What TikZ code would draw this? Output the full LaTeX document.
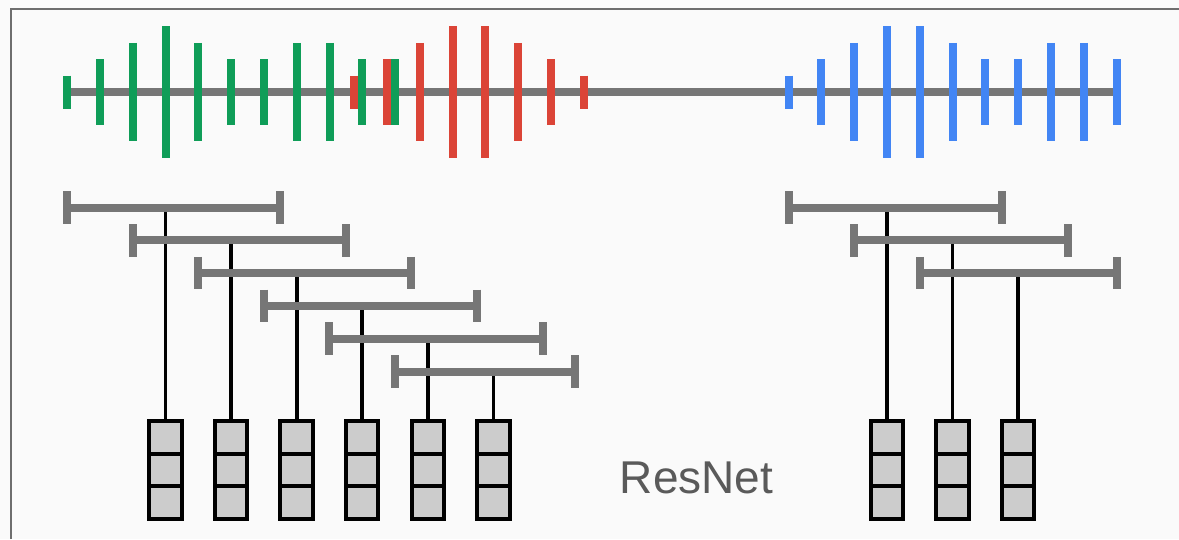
\documentclass[tikz,border=0pt]{standalone}
\usepackage{fontspec}
\setmainfont{Liberation Sans}
\usetikzlibrary{calc}
\definecolor{bgc}{HTML}{FAFAFA}
\definecolor{framec}{HTML}{6E6E6E}
\definecolor{axisc}{HTML}{767676}
\definecolor{gbar}{HTML}{0F9D58}
\definecolor{rbar}{HTML}{DB4437}
\definecolor{bbar}{HTML}{4285F4}
\definecolor{cellc}{HTML}{CCCCCC}
\definecolor{txtc}{HTML}{5A5A5A}
\tikzset{
  spike/.style={line width=8pt, line cap=butt},
  axisline/.style={line width=8pt, axisc, line cap=butt},
  bracketline/.style={line width=8pt, axisc, line cap=butt},
  wire/.style={line width=3.8pt, black, line cap=butt},
  cellbox/.style={draw=black, line width=4pt, fill=cellc, minimum width=32.5pt, minimum height=97.4pt, inner sep=0pt, outer sep=0pt},
}
\begin{document}
\begin{tikzpicture}[x=1pt,y=-1pt]
\useasboundingbox (0,0) rectangle (1179,539);
\fill[bgc] (0,0) rectangle (1179,539);
\draw[framec, line width=2pt] (11,539) -- (11,9.2) -- (1179,9.2);

% waveform axis
\coordinate (ax0) at (67.2,92);
\coordinate (ax1) at (1116.5,92);
\draw[axisline] (ax0) -- (ax1);

% red spikes
\foreach \x/\h in {354.1/16.5, 386.9/33, 419.7/49.2, 452.5/65.8, 485.3/65.8, 518.1/49.2, 550.9/33, 583.7/16.5}
  \draw[spike, rbar] (\x,92-\h) -- (\x,92+\h);
% green spikes
\foreach \x/\h in {67.2/16.5, 100.0/33, 132.8/49.2, 165.6/65.8, 198.4/49.2, 231.2/33, 264.0/33, 296.8/49.2, 329.6/49.2, 362.4/33, 395.2/33}
  \draw[spike, gbar] (\x,92-\h) -- (\x,92+\h);
% blue spikes
\foreach \x/\h in {788.5/16.5, 821.3/33, 854.1/49.2, 886.9/65.8, 919.7/65.8, 952.5/49.2, 985.3/33, 1018.1/33, 1050.9/49.2, 1083.7/49.2, 1116.5/33}
  \draw[spike, bbar] (\x,92-\h) -- (\x,92+\h);

% boxes and wires
\foreach \i/\c/\y in {1/165.4/207.5, 2/231.0/240.3, 3/296.6/273.1, 4/362.2/305.9, 5/427.8/338.7, 6/493.5/371.5, 7/886.9/207.5, 8/952.5/240.3, 9/1018.1/273.1} {
  \node[cellbox] (box\i) at (\c,470) {};
  \draw[line width=4pt] ($(box\i.north west)!1/3!(box\i.south west)$) -- ($(box\i.north east)!1/3!(box\i.south east)$);
  \draw[line width=4pt] ($(box\i.north west)!2/3!(box\i.south west)$) -- ($(box\i.north east)!2/3!(box\i.south east)$);
  \coordinate (tap\i) at (\c,\y);
  \draw[wire] (tap\i) -- (box\i.north);
}

% brackets
\foreach \i/\l/\r/\y in {1/67.2/280.2/207.5, 2/132.6/345.7/240.3, 3/198.2/411.4/273.1, 4/263.8/477.1/305.9, 5/329.4/542.5/338.7, 6/395.0/575.4/371.5, 7/788.5/1001.8/207.5, 8/854.1/1067.5/240.3, 9/919.7/1116.5/273.1} {
  \coordinate (L\i) at (\l,\y);
  \coordinate (R\i) at (\r,\y);
  \draw[bracketline] (L\i) -- (R\i);
  \draw[bracketline] ([yshift=16.3pt]L\i) -- ([yshift=-16.3pt]L\i);
  \draw[bracketline] ([yshift=16.3pt]R\i) -- ([yshift=-16.3pt]R\i);
}

\node[text=txtc, inner sep=0pt, font=\fontsize{46}{46}\selectfont] (lbl) at (696.5,477.5) {ResNet};
\end{tikzpicture}
\end{document}
